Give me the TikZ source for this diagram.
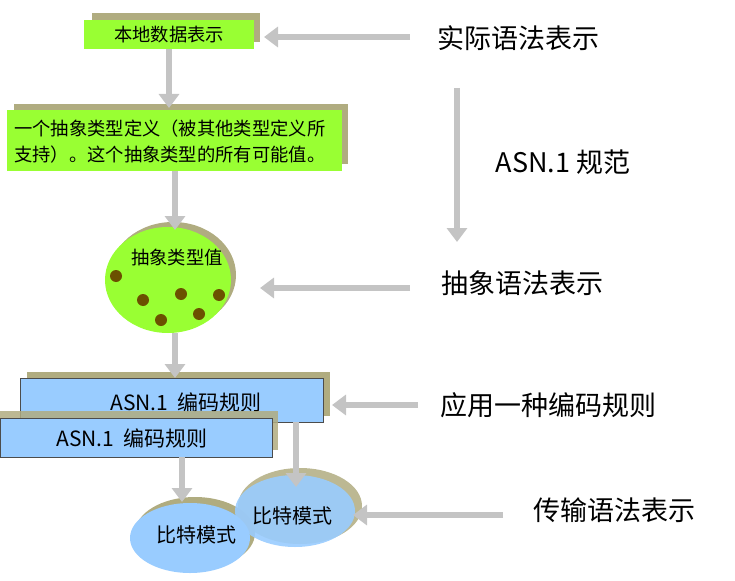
\documentclass[tikz,border=0pt]{standalone}
\usepackage{fontspec}
\setmainfont{Noto Sans CJK SC}
\usetikzlibrary{arrows.meta,shapes.geometric}
\definecolor{grn}{HTML}{99FF33}
\definecolor{tan}{HTML}{B0AC80}
\definecolor{blu}{HTML}{99CCFF}
\definecolor{arr}{HTML}{C4C4C4}
\definecolor{dot}{HTML}{6B5000}
\tikzset{
  garrow/.style={draw=arr,line width=6pt,-{Triangle[width=20pt,length=14pt]}},
  bbox/.style={fill=blu,draw=black!70,line width=0.6pt,inner sep=0pt},
  shad/.style={fill=tan},
  lbl/.style={font=\fontsize{27}{30}\selectfont},
  small/.style={font=\fontsize{18.3}{26}\selectfont},
  mid/.style={font=\fontsize{21}{24}\selectfont},
  bead/.style={circle,fill=dot,inner sep=0pt,minimum size=12pt}
}
\begin{document}
\begin{tikzpicture}[x=1pt,y=-1pt]
\useasboundingbox (0,0) rectangle (735,580);
% box 1
\fill[shad] (92,13) rectangle (260,42);
\fill[grn] (84,20) rectangle (254,49);
\node[small] (b1) at (169,35) {本地数据表示};
\coordinate (b1s) at (169,49);
% box 2
\fill[shad] (14,104) rectangle (348,164);
\fill[grn] (7,110) rectangle (342,171);
\node[small,anchor=west,align=left,inner sep=0pt] (b2) at (14,142) {一个抽象类型定义（被其他类型定义所\\支持）。这个抽象类型的所有可能值。};
\coordinate (b2n) at (169,108);
\coordinate (b2s) at (175,171);
% ellipse
\fill[shad] (173,275) ellipse [x radius=63, y radius=53];
\fill[grn] (168,280) ellipse [x radius=63, y radius=53];
\node[small] (ev) at (177,258) {抽象类型值};
\coordinate (en) at (175,230);
\coordinate (es) at (175,333);
\foreach \p/\n in {{116,276}/d1,{143,300}/d2,{181,294}/d3,{219,295}/d4,{161,320}/d5,{199,314}/d6}
  \node[bead] (\n) at (\p) {};
% blue boxes
\fill[tan] (27,372) rectangle (330,416);
\fill[bbox] (20,378) rectangle (323,422);
\node[mid] (r1) at (186,402) {ASN.1\ \ 编码规则};
\fill[tan,opacity=0.85] (0,411) rectangle (278,450);
\fill[bbox] (0,418) rectangle (272,457);
\node[mid] (r2) at (132,438) {ASN.1\ \ 编码规则};
\coordinate (r1n) at (175,378);
\coordinate (r1s) at (296,422);
\coordinate (r2s) at (182,457);
% bit ellipses
\fill[tan] (195,533) ellipse [x radius=60, y radius=36];
\fill[blu] (190,538) ellipse [x radius=60, y radius=35];
\node[font=\fontsize{20}{22}\selectfont] (p1) at (196,535) {比特模式};
\fill[tan,opacity=0.85] (300,506) ellipse [x radius=62, y radius=38];
\fill[blu,opacity=0.9] (295,511) ellipse [x radius=60, y radius=36];
\node[font=\fontsize{20}{22}\selectfont] (p2) at (292,516) {比特模式};
\coordinate (p1n) at (182,502);
\coordinate (p2n) at (296,487);
% right labels
\node[lbl] (t1) at (518,38) {实际语法表示};
\node[lbl] (t2) at (563,162) {ASN.1 规范};
\node[lbl] (t3) at (522,283) {抽象语法表示};
\node[lbl] (t4) at (548,405) {应用一种编码规则};
\node[lbl] (t5) at (614,510) {传输语法表示};
\coordinate (a1s) at (410,37); \coordinate (a1e) at (264,37);
\coordinate (v1) at (457,88); \coordinate (v2) at (457,242);
\coordinate (a3s) at (410,288); \coordinate (a3e) at (260,288);
\coordinate (a4s) at (418,405); \coordinate (a4e) at (332,405);
\coordinate (a5s) at (503,515); \coordinate (a5e) at (353,515);
% arrows
\draw[garrow] (a1s) -- (a1e);
\draw[garrow] (v1) -- (v2);
\draw[garrow] (a3s) -- (a3e);
\draw[garrow] (a4s) -- (a4e);
\draw[garrow] (a5s) -- (a5e);
\draw[garrow] (b1s) -- (b2n);
\draw[garrow] (b2s) -- (en);
\draw[garrow] (es) -- (r1n);
\draw[garrow] (r2s) -- (p1n);
\draw[garrow] (r1s) -- (p2n);
\end{tikzpicture}
\end{document}
